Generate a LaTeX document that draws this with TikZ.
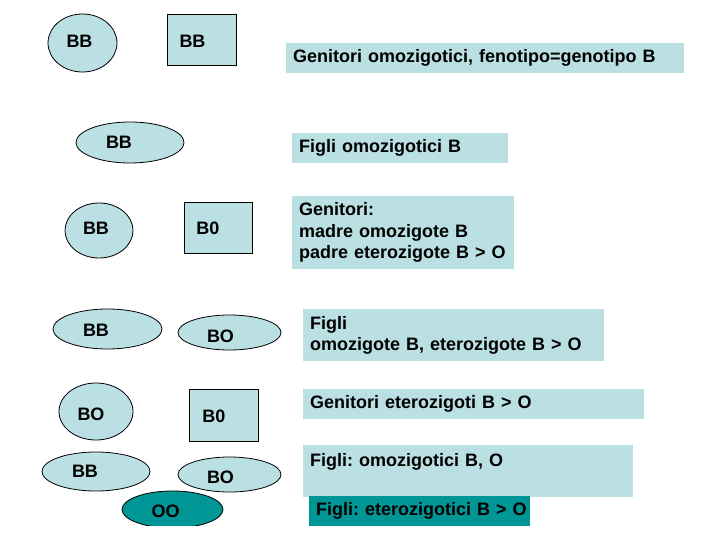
\documentclass[tikz,border=0pt]{standalone}
\usepackage{fontspec}
\setmainfont{Liberation Sans}
\usetikzlibrary{shapes.geometric}
\definecolor{lb}{RGB}{187,224,227}
\definecolor{tealdk}{RGB}{0,150,150}
\frenchspacing
\begin{document}
\begin{tikzpicture}[x=1pt,y=-1pt,
  shp/.style={draw=black, line width=0.8pt, fill=lb, inner sep=0pt},
  ell/.style={shp, ellipse},
  rbox/.style={shp, rectangle},
  lbl/.style={font=\fontsize{18}{21}\selectfont\bfseries, inner sep=0pt},
  tbox/.style={fill=lb, anchor=north west, align=left, inner xsep=7pt, inner ysep=0pt,
    font=\fontsize{18}{21.5}\selectfont\bfseries\frenchspacing}]
\useasboundingbox (0,0) rectangle (720,540);

% row 1
\node[ell, minimum width=69pt, minimum height=58pt] (e1) at (82.5,43) {};
\node[lbl] (l1) at (79.5,41) {BB};
\node[rbox, minimum width=69pt, minimum height=51pt] (r1) at (201.5,39.5) {};
\node[lbl] (l2) at (192.5,41) {BB};
% row 2
\node[ell, minimum width=108pt, minimum height=41pt] (e2) at (130,142.5) {};
\node[lbl] (l3) at (119,142.5) {BB};
% row 3
\node[ell, minimum width=68pt, minimum height=55pt] (e3) at (99,230.5) {};
\node[lbl] (l4) at (96,228.5) {BB};
\node[rbox, minimum width=68pt, minimum height=51pt] (r2) at (218,227.5) {};
\node[lbl] (l5) at (208,228.5) {B0};
% row 4
\node[ell, minimum width=109pt, minimum height=40pt] (e4) at (107.5,329) {};
\node[lbl] (l6) at (96,330.5) {BB};
\node[ell, minimum width=103pt, minimum height=35pt] (e5) at (229.5,332.5) {};
\node[lbl] (l7) at (220.5,336) {BO};
% row 5
\node[ell, minimum width=74pt, minimum height=57pt] (e6) at (96,411.5) {};
\node[lbl] (l8) at (91,414) {BO};
\node[rbox, minimum width=69pt, minimum height=52pt] (r3) at (223.5,415) {};
\node[lbl] (l9) at (214,416) {B0};
% row 6
\node[ell, minimum width=108pt, minimum height=39pt] (e7) at (96,471.5) {};
\node[lbl] (l10) at (85,471.5) {BB};
\node[ell, minimum width=103pt, minimum height=35pt] (e8) at (229.5,474.5) {};
\node[lbl] (l11) at (220.5,477.5) {BO};
% OO
\begin{scope}
\clip (0,0) rectangle (720,525);
\node[ell, fill=tealdk, minimum width=101pt, minimum height=37pt] (e9) at (172.5,509.5) {};
\end{scope}
\node[lbl] (l12) at (165.5,511.5) {OO};

% text boxes
\node[tbox, text width=384pt, minimum height=30pt] (t1) at (286,43) {\mbox{Genitori omozigotici, fenotipo=genotipo B}};
\node[tbox, text width=202pt, minimum height=30pt] (t2) at (292,133) {\mbox{Figli omozigotici B}};
\node[tbox, text width=208pt, minimum height=73pt] (t3) at (292,196) {Genitori:\\madre omozigote B\\\mbox{padre eterozigote B > O}};
\node[tbox, text width=287pt, minimum height=52pt] (t4) at (303,309) {Figli\\\mbox{omozigote B, eterozigote B > O}};
\node[tbox, text width=327pt, minimum height=30pt] (t5) at (303,389) {\mbox{Genitori eterozigoti B > O}};
\node[tbox, text width=316pt, minimum height=52pt] (t6) at (303,445) {\mbox{Figli: omozigotici B, O}\\~};
\node[tbox, fill=tealdk, text width=207pt, minimum height=30pt] (t7) at (309,496) {\mbox{Figli: eterozigotici B > O}};
\end{tikzpicture}
\end{document}
